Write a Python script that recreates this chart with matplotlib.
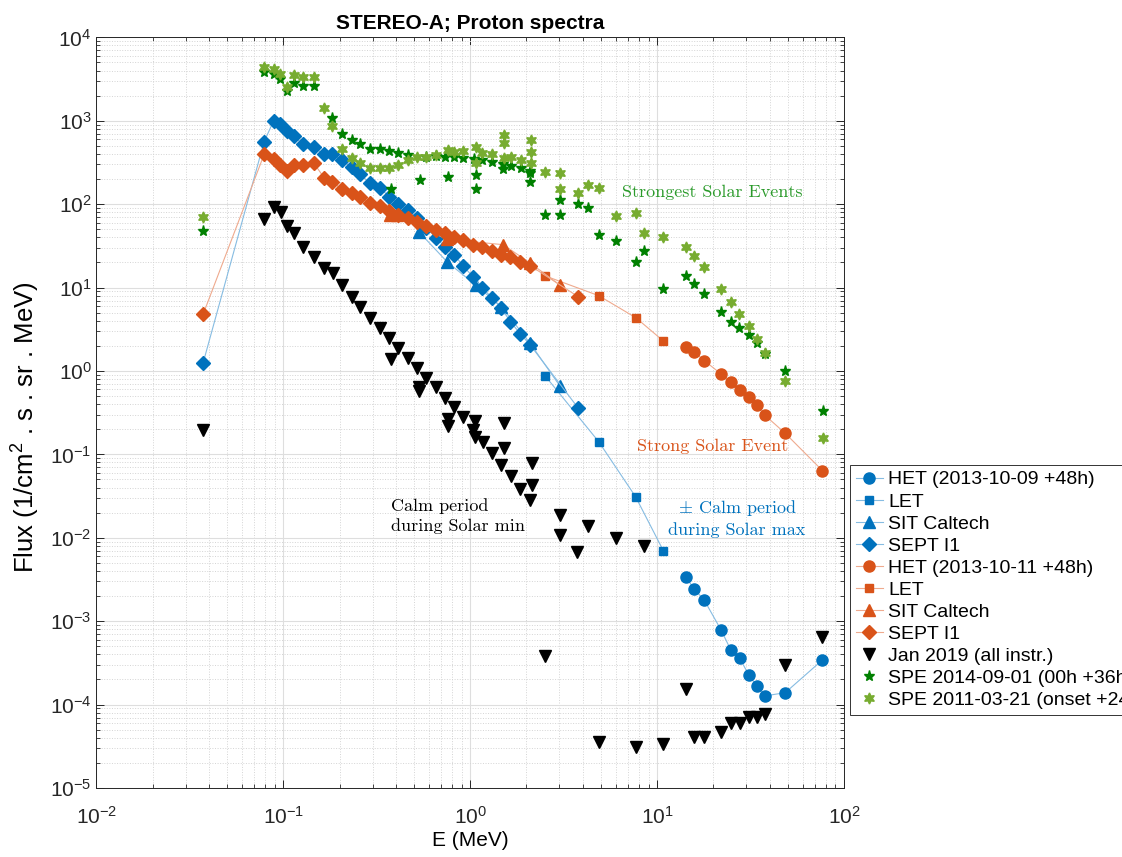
import matplotlib
matplotlib.use("Agg")
import matplotlib.pyplot as plt
from matplotlib.ticker import LogLocator, NullFormatter

# ---- energies (MeV) and fluxes (1/cm2 s sr MeV) ----

# quiet-ish solar-max interval, 2013-10-09 +48h
het1_e = [14.2, 15.8, 17.9, 22.0, 24.8, 27.7, 31.0, 34.2, 37.6, 48.5, 76.7]
het1_f = [3.42e-3, 2.43e-3, 1.78e-3, 7.84e-4, 4.52e-4, 3.59e-4, 2.25e-4,
          1.67e-4, 1.27e-4, 1.39e-4, 3.43e-4]
let1_e = [2.52, 4.87, 7.67, 10.8]
let1_f = [0.871, 0.142, 0.0311, 0.0070]
sit1_e = [0.533, 0.753, 1.07, 1.47, 2.09, 3.02]
sit1_f = [46.2, 20.3, 10.7, 5.9, 2.15, 0.66]
sept1_e = [0.0372, 0.0789, 0.0887, 0.0962, 0.1047, 0.1134, 0.127, 0.145,
           0.165, 0.1824, 0.2056, 0.2318, 0.2575, 0.290, 0.328, 0.368,
           0.411, 0.467, 0.519, 0.583, 0.656, 0.736, 0.823, 0.915, 1.035,
           1.162, 1.314, 1.468, 1.641, 1.855, 2.094, 3.78]
sept1_f = [1.25, 561, 1000, 915, 755, 657, 523, 481, 396, 396, 339, 277,
           230, 178, 158, 123, 101, 85.2, 68.3, 51.4, 39.7, 30.4, 24.6,
           18.2, 13.5, 9.97, 7.44, 5.65, 3.90, 2.78, 2.05, 0.36]

# strong event, 2013-10-11 +48h
het2_e = het1_e
het2_f = [1.95, 1.69, 1.33, 0.92, 0.73, 0.59, 0.484, 0.388, 0.297, 0.179,
          0.0638]
let2_e = [2.52, 4.87, 7.7, 10.8]
let2_f = [13.8, 8.0, 4.35, 2.29]
sit2_e = [0.371, 0.405, 0.75, 1.50, 2.10, 3.02]
sit2_f = [73.2, 73.2, 37.9, 32.7, 19.6, 10.7]
sept2_e = sept1_e
sept2_f = [4.78, 396, 345, 295, 252, 295, 295, 315, 208, 186, 151, 135,
           123, 102, 95.1, 83.6, 74.2, 67.7, 61.7, 54.8, 49.1, 44.8, 40.8,
           37.2, 32.4, 30.9, 27.7, 24.6, 23.1, 20.5, 18.3, 7.78]

# solar minimum, Jan 2019, all instruments
jan_e = [0.0372, 0.0789, 0.0887, 0.0966, 0.1047, 0.114, 0.127, 0.145,
         0.165, 0.1834, 0.2056, 0.2318, 0.258, 0.290, 0.328, 0.368, 0.41,
         0.376, 0.465, 0.519, 0.583, 0.532, 0.532, 0.656, 0.736, 0.823,
         0.758, 0.758, 0.92, 1.057, 1.035, 1.057, 1.17, 1.51, 1.314, 1.51,
         1.468, 1.647, 2.14, 1.855, 2.14, 2.09, 3.01, 3.01, 3.73, 4.26,
         6.0, 8.5, 2.52, 14.2, 48.5, 76.7, 4.87, 7.67, 10.8, 15.8, 17.9,
         22.0, 24.8, 27.7, 31.0, 34.2, 37.6]
jan_f = [0.196, 65.9, 93.3, 80.0, 54.8, 45.5, 30.9, 23.5, 17.0, 14.8, 10.7,
         7.78, 5.90, 4.26, 3.28, 2.47, 1.90, 1.39, 1.42, 1.08, 0.817, 0.643,
         0.568, 0.638, 0.471, 0.367, 0.266, 0.219, 0.279, 0.254, 0.196,
         0.163, 0.142, 0.236, 0.103, 0.118, 0.0746, 0.0551, 0.0796, 0.0388,
         0.043, 0.0284, 0.0188, 0.0108, 0.00667, 0.0138, 0.0100, 0.00798,
         3.86e-4, 1.52e-4, 2.98e-4, 6.52e-4, 3.59e-5, 3.13e-5, 3.34e-5,
         4.12e-5, 4.12e-5, 4.73e-5, 5.97e-5, 6.07e-5, 7.16e-5, 7.16e-5,
         7.71e-5]

# SPE 2014-09-01
spe14_e = [0.0372, 0.0789, 0.0887, 0.0963, 0.1047, 0.1134, 0.127, 0.145,
           0.1824, 0.2056, 0.2318, 0.2575, 0.290, 0.328, 0.368, 0.376,
           0.411, 0.465, 0.537, 0.583, 0.659, 0.736, 0.76, 0.823, 0.918,
           1.05, 1.07, 1.07, 1.162, 1.314, 1.50, 1.50, 1.66, 1.87, 2.10,
           2.10, 2.10, 2.52, 3.02, 3.02, 3.78, 4.26, 4.87, 6.0, 7.7, 8.5,
           10.8, 14.2, 15.8, 17.9, 22.0, 24.9, 27.6, 31.0, 34.2, 37.6,
           48.4, 77.0]
spe14_f = [48.1, 3815, 3600, 3170, 2277, 2815, 2635, 2635, 1071, 695, 589,
           523, 459, 455, 430, 151, 408, 389, 195, 370, 378, 365, 214, 365,
           355, 345, 224, 150, 339, 318, 301, 264, 287, 269, 252, 235, 186,
           74.2, 112, 74.2, 100, 89.3, 42.7, 36.5, 20.4, 27.7, 9.62, 13.8,
           10.96, 8.45, 5.14, 3.90, 3.30, 2.68, 2.15, 1.60, 1.00, 0.331]

# SPE 2011-03-21
spe11_e = [0.0372, 0.0789, 0.0887, 0.0963, 0.1047, 0.1134, 0.127, 0.145,
           0.165, 0.1824, 0.2056, 0.2318, 0.2575, 0.290, 0.328, 0.368,
           0.411, 0.465, 0.521, 0.583, 0.659, 0.76, 0.823, 0.918, 1.07,
           1.07, 1.162, 1.314, 1.51, 1.51, 1.51, 1.66, 1.87, 2.12, 2.12,
           2.12, 2.52, 3.02, 3.02, 3.78, 4.26, 4.87, 6.0, 7.7, 8.5, 10.8,
           14.2, 15.8, 17.9, 22.0, 24.9, 27.6, 31.0, 34.2, 37.6, 48.4, 77.0]
spe11_f = [69.7, 4380, 4145, 3640, 2560, 3540, 3380, 3380, 1413, 866, 463,
           361, 309, 274, 274, 269, 295, 339, 365, 371, 389, 447, 426, 430,
           489, 309, 414, 396, 676, 537, 355, 371, 339, 589, 426, 309, 241,
           235, 151, 137, 170, 158, 72.8, 79.1, 44.8, 40.1, 30.9, 23.9, 17.8,
           9.54, 6.66, 4.82, 3.49, 2.44, 1.63, 0.765, 0.156]

blue = '#0072BD'
blue_line = '#86BCE2'
orange = '#D95319'
orange_line = '#EFAA8E'
light_green = '#77AC30'
dark_green = '#008000'

plt.rcParams['font.family'] = ['Liberation Sans', 'DejaVu Sans']
plt.rcParams['mathtext.fontset'] = 'custom'
plt.rcParams['mathtext.rm'] = 'Liberation Sans'
plt.rcParams['mathtext.it'] = 'Liberation Sans:italic'
plt.rcParams['mathtext.bf'] = 'Liberation Sans:bold'

fig = plt.figure(figsize=(11.22, 8.57), dpi=100)
ax = fig.add_axes([0.086, 0.0805, 0.6662, 0.8759])

lw = 0.8
ax.plot(het1_e, het1_f, '-o', color=blue_line, mfc=blue, mec=blue, ms=8, lw=lw,
        label='HET (2013-10-09 +48h)')
ax.plot(let1_e, let1_f, '-s', color=blue_line, mfc=blue, mec=blue, ms=6, lw=lw,
        label='LET')
ax.plot(sit1_e, sit1_f, '-^', color=blue_line, mfc=blue, mec=blue, ms=8, lw=lw,
        label='SIT Caltech')
ax.plot(sept1_e, sept1_f, '-D', color=blue_line, mfc=blue, mec=blue, ms=7, lw=lw,
        label='SEPT I1')
ax.plot(het2_e, het2_f, '-o', color=orange_line, mfc=orange, mec=orange, ms=8,
        lw=lw, label='HET (2013-10-11 +48h)')
ax.plot(let2_e, let2_f, '-s', color=orange_line, mfc=orange, mec=orange, ms=6,
        lw=lw, label='LET')
ax.plot(sit2_e, sit2_f, '-^', color=orange_line, mfc=orange, mec=orange, ms=8,
        lw=lw, label='SIT Caltech')
ax.plot(sept2_e, sept2_f, '-D', color=orange_line, mfc=orange, mec=orange, ms=7,
        lw=lw, label='SEPT I1')
ax.plot(jan_e, jan_f, 'v', color='k', ms=8, label='Jan 2019 (all instr.)')
ax.plot(spe14_e, spe14_f, '*', color=dark_green, ms=8,
        label='SPE 2014-09-01 (00h +36h)')
ax.plot(spe11_e, spe11_f, marker=(6, 1, 0), ls='none', color=light_green, ms=8,
        label='SPE 2011-03-21 (onset +24h)')

ax.set_xscale('log')
ax.set_yscale('log')
ax.set_xlim(1e-2, 1e2)
ax.set_ylim(1e-5, 1e4)
for axis in (ax.xaxis, ax.yaxis):
    axis.set_major_locator(LogLocator(base=10, numticks=20))
    axis.set_minor_locator(LogLocator(base=10, subs=range(2, 10), numticks=20))
    axis.set_minor_formatter(NullFormatter())

ax.grid(True, which='major', color='#dedede', lw=0.8, ls='-')
ax.grid(True, which='minor', color='#d4d4d4', lw=0.7, ls=':')
ax.set_axisbelow(True)
ax.tick_params(which='both', direction='in', top=True, right=True,
               labelsize=15, colors='#262626')
ax.tick_params(which='major', length=6, width=0.7)
ax.tick_params(which='minor', length=3, width=0.6)
ax.tick_params(axis='x', which='major', pad=13)
for s in ax.spines.values():
    s.set_color('#262626')
    s.set_linewidth(0.7)

ax.set_xlabel('E (MeV)', fontsize=15, labelpad=2)
ax.set_ylabel(r'Flux (1/cm$^2$ . s . sr . MeV)', fontsize=18.5)
ax.yaxis.set_label_coords(-0.073, 0.481)
ax.set_title('STEREO-A; Proton spectra', fontsize=15, fontweight='bold', pad=6)

# annotations in LaTeX-like serif
serif = dict(family='cmr10', fontsize=13, transform=ax.transAxes)
ax.text(0.703, 0.794, 'Strongest Solar Events', color='#2A9A2A',
        ha='left', va='center', **serif)
ax.text(0.723, 0.4546, 'Strong Solar Event', color=orange,
        ha='left', va='center', **serif)
ax.text(0.857, 0.3594, '$\\pm$ Calm period\nduring Solar max', color=blue,
        ha='center', va='center', multialignment='center',
        math_fontfamily='cm', linespacing=1.3, **serif)
ax.text(0.394, 0.3627, 'Calm period\nduring Solar min', color='k',
        ha='left', va='center', linespacing=1.3, **serif)

leg = ax.legend(loc='upper left', bbox_to_anchor=(0.7576, 0.4574),
                bbox_transform=fig.transFigure, fontsize=14, frameon=True,
                fancybox=False, framealpha=1, edgecolor='#333333',
                handlelength=1.4, handletextpad=0.25, labelspacing=0.23,
                borderpad=0.3, borderaxespad=0, numpoints=1)
leg.get_frame().set_linewidth(0.7)

fig.savefig('out.png', dpi=100)
